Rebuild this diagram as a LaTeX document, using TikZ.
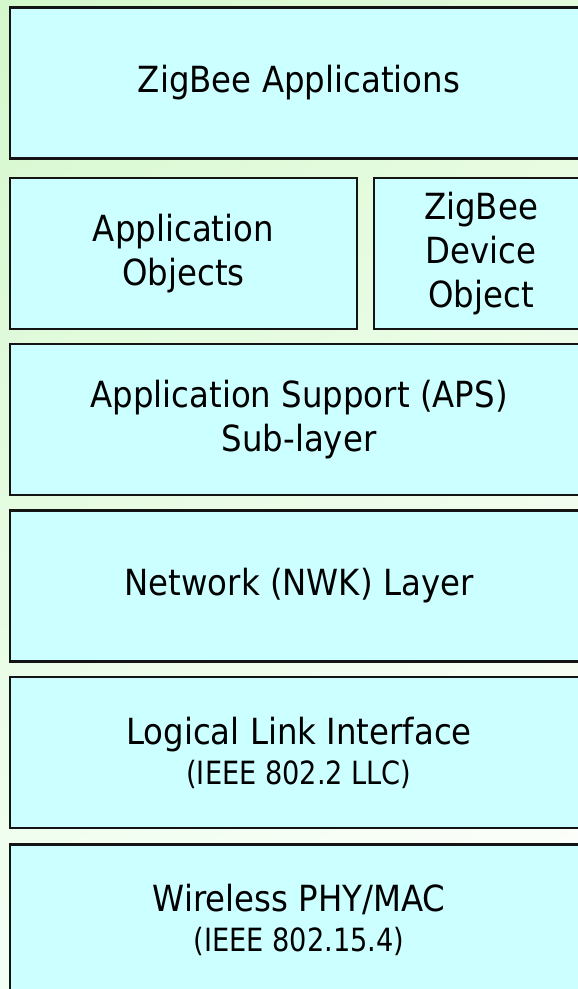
\documentclass[tikz,border=0pt]{standalone}
\usepackage{fontspec}
\usetikzlibrary{shadings}
\setmainfont[FakeStretch=0.9]{DejaVu Sans}
\newfontfamily\smallfont[FakeStretch=0.85]{DejaVu Sans}
\definecolor{boxfill}{HTML}{CCFFFF}
\definecolor{boxline}{HTML}{141414}
\definecolor{bgtl}{HTML}{D4F8CC}
\definecolor{bgtr}{HTML}{E4FBDD}
\definecolor{bgbl}{HTML}{F4FFF4}
\begin{document}
\begin{tikzpicture}[x=0.75pt,y=-0.75pt,
  layer/.style={draw=boxline, fill=boxfill, line width=1.8pt, rectangle,
    inner sep=0pt, align=center, text=black,
    font=\fontsize{27}{33}\selectfont},
  twoline/.style={layer, font=\fontsize{27}{30}\selectfont}]
\useasboundingbox (0,0) rectangle (578,989);
\shade[upper left=bgtl, upper right=bgtr, lower left=bgbl, lower right=white]
  (0,0) rectangle (578,989);
\node[layer, minimum width=578*0.75pt, minimum height=151*0.75pt] (app) at (299,83)
  {ZigBee Applications};
\node[layer, minimum width=347*0.75pt, minimum height=151*0.75pt] (apo) at (183.5,253.5)
  {Application\\Objects};
\node[layer, minimum width=214*0.75pt, minimum height=151*0.75pt] (zdo) at (481,253.5)
  {ZigBee\\Device\\Object};
\node[layer, minimum width=578*0.75pt, minimum height=151*0.75pt] (aps) at (299,419.5)
  {Application Support (APS)\\Sub-layer};
\node[layer, minimum width=578*0.75pt, minimum height=151*0.75pt] (nwk) at (299,586)
  {Network (NWK) Layer};
\node[twoline, minimum width=578*0.75pt, minimum height=151*0.75pt] (llc) at (299,752.5)
  {Logical Link Interface\\{\smallfont\fontsize{24}{30}\selectfont (IEEE 802.2 LLC)}};
\node[twoline, minimum width=578*0.75pt, minimum height=151*0.75pt] (phy) at (299,920)
  {Wireless PHY/MAC\\{\smallfont\fontsize{24}{30}\selectfont (IEEE 802.15.4)}};
\end{tikzpicture}
\end{document}
